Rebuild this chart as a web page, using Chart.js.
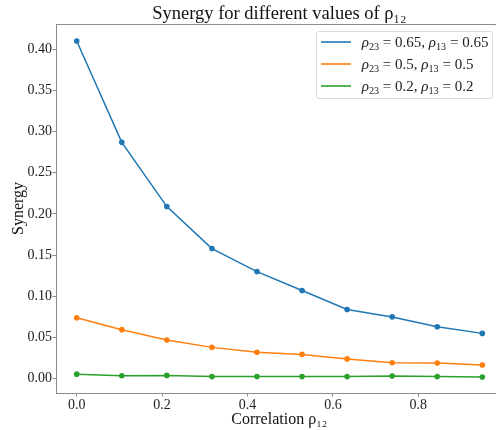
<!DOCTYPE html>
<html>
<head>
<meta charset="utf-8">
<script src="https://cdn.jsdelivr.net/npm/chart.js@4.4.0/dist/chart.umd.min.js"></script>
<style>
    html, body { margin: 0; padding: 0; background: #fff; overflow: hidden; }
    #wrap { position: relative; width: 496px; height: 430px; overflow: hidden; }
    #chart { position: absolute; left: 0; top: 0; }
    #legend {
        position: absolute; left: 316px; top: 31px; width: 177px; height: 68px;
        box-sizing: border-box; border: 1px solid #dcdcdc; border-radius: 3px;
        background: rgba(255, 255, 255, 0.85);
        font-family: 'Liberation Serif', serif; font-size: 15px; color: #222;
    }
    #legend .row { position: absolute; left: 0; width: 170px; height: 22px; line-height: 22px; white-space: nowrap; }
    #legend .swatch { position: absolute; left: 4px; top: 10px; width: 30px; height: 2px; opacity: 0.8; }
    #legend .txt { position: absolute; left: 44.7px; top: 0; }
    #legend sub { font-size: 68%; vertical-align: -0.3em; line-height: 0; }
</style>
</head>
<body>
<div id="wrap">
    <canvas id="chart" width="559" height="430"></canvas>
    <div id="legend"></div>
</div>
<script>
// x values (correlation rho12)
const correlation = [0, 0.1056, 0.2111, 0.3167, 0.4222, 0.5278, 0.6333, 0.7389, 0.8444, 0.95];

// synergy per series
const synergyHigh = [0.410, 0.287, 0.209, 0.158, 0.130, 0.107, 0.084, 0.075, 0.063, 0.055];
const synergyMid = [0.074, 0.0595, 0.047, 0.038, 0.032, 0.0295, 0.024, 0.0194, 0.019, 0.0166];
const synergyLow = [0.0055, 0.0035, 0.004, 0.0025, 0.0025, 0.0025, 0.0025, 0.0033, 0.0025, 0.002];

// legend parameters
const rho23 = [0.65, 0.5, 0.2];
const rho13 = [0.65, 0.5, 0.2];

// tick labels
const xTickValues = [0, 0.2, 0.4, 0.6, 0.8];
const yTickValues = [0, 0.05, 0.10, 0.15, 0.20, 0.25, 0.30, 0.35, 0.40];

const chartTitle = 'Synergy for different values of ρ₁₂';

const seriesColors = ['#1f77b4', '#ff7f0e', '#2ca02c'];
const FONT = "'Liberation Serif', serif";
const SPINE = '#8c8c8c';

const series = [synergyHigh, synergyMid, synergyLow];

// top spine + title centred over the axes (not the canvas)
const framePlugin = {
    id: 'framePlugin',
    afterDraw: (chart) => {
        const { ctx, chartArea: { left, right, top } } = chart;
        ctx.save();
        ctx.strokeStyle = SPINE;
        ctx.lineWidth = 1;
        ctx.beginPath();
        ctx.moveTo(left, Math.round(top) + 0.5);
        ctx.lineTo(right, Math.round(top) + 0.5);
        ctx.stroke();

        ctx.fillStyle = '#111';
        ctx.font = `18.5px ${FONT}`;
        ctx.textAlign = 'center';
        ctx.textBaseline = 'alphabetic';
        ctx.fillText(chartTitle, (left + right) / 2, 18.7);
        ctx.restore();
    }
};

new Chart(document.getElementById('chart').getContext('2d'), {
    type: 'line',
    data: {
        datasets: series.map((vals, i) => ({
            label: `ρ₂₃ = ${rho23[i]}, ρ₁₃ = ${rho13[i]}`,
            data: vals.map((v, j) => ({ x: correlation[j], y: v })),
            borderColor: seriesColors[i],
            backgroundColor: seriesColors[i],
            pointBackgroundColor: seriesColors[i],
            pointBorderWidth: 0,
            pointRadius: 2.8,
            borderWidth: 1.5,
            tension: 0,
            fill: false
        }))
    },
    options: {
        responsive: false,
        animation: false,
        layout: { padding: { left: 0, right: 56.4, top: 24, bottom: 0 } },
        plugins: {
            legend: { display: false },
            tooltip: { enabled: false },
            title: { display: false }
        },
        scales: {
            x: {
                type: 'linear',
                min: -0.0485,
                max: 0.9975,
                afterBuildTicks: (s) => { s.ticks = xTickValues.map(v => ({ value: v })); },
                afterFit: (s) => { s.height = 37; },
                grid: { display: true, drawOnChartArea: false, tickLength: 3.5, tickColor: SPINE },
                border: { display: true, color: SPINE, width: 1 },
                ticks: {
                    color: '#222',
                    padding: 2,
                    maxRotation: 0,
                    font: { family: FONT, size: 14, lineHeight: 1 },
                    callback: (v) => v.toFixed(1)
                },
                title: {
                    display: true,
                    text: 'Correlation ρ₁₂',
                    color: '#111',
                    font: { family: FONT, size: 16, lineHeight: 1.2 },
                    padding: { top: 0, bottom: 0.4 }
                }
            },
            y: {
                type: 'linear',
                min: -0.0174,
                max: 0.4307,
                afterBuildTicks: (s) => { s.ticks = yTickValues.map(v => ({ value: v })); },
                afterFit: (s) => { s.width = 56; },
                grid: { display: true, drawOnChartArea: false, tickLength: 3.5, tickColor: SPINE },
                border: { display: true, color: SPINE, width: 1 },
                ticks: {
                    color: '#222',
                    padding: 0.5,
                    font: { family: FONT, size: 14, lineHeight: 1.2 },
                    callback: (v) => v.toFixed(2)
                },
                title: {
                    display: true,
                    text: 'Synergy',
                    color: '#111',
                    font: { family: FONT, size: 16, lineHeight: 1.2 },
                    padding: { top: 8.7, bottom: 0 }
                }
            }
        }
    },
    plugins: [framePlugin]
});

// legend as html so subscripts render properly
const legendEl = document.getElementById('legend');
series.forEach((_, i) => {
    const row = document.createElement('div');
    row.className = 'row';
    row.style.top = (22 * i - 1.3) + 'px';
    const swatch = document.createElement('div');
    swatch.className = 'swatch';
    swatch.style.backgroundColor = seriesColors[i];
    const txt = document.createElement('span');
    txt.className = 'txt';
    txt.innerHTML = `<i>ρ</i><sub>23</sub> = ${rho23[i]}, <i>ρ</i><sub>13</sub> = ${rho13[i]}`;
    row.appendChild(swatch);
    row.appendChild(txt);
    legendEl.appendChild(row);
});
</script>
</body>
</html>
